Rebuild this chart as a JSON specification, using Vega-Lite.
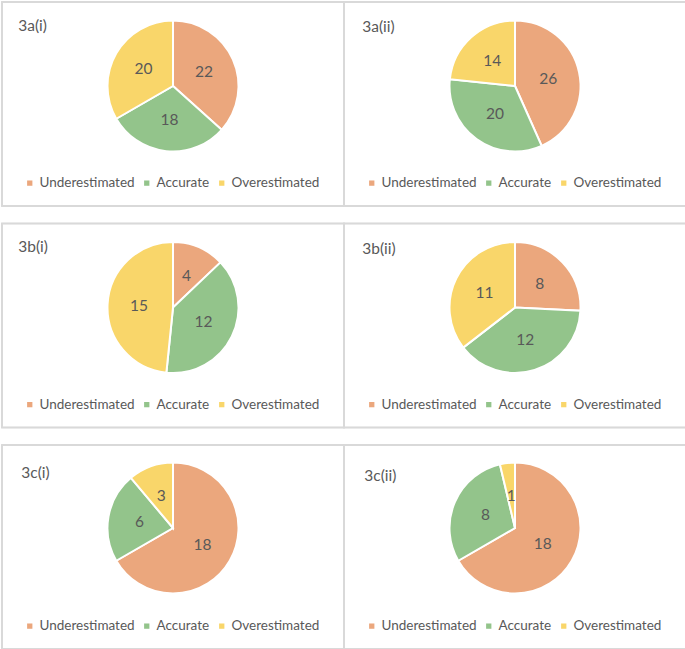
{
  "$schema": "https://vega.github.io/schema/vega-lite/v6.json",
  "padding": {"left": 1, "top": 1, "right": 0, "bottom": 0},
  "background": "white",
  "datasets": {
    "d": [
      {"panel": "3a(i)", "category": "Underestimated", "idx": 1, "count": 22},
      {"panel": "3a(i)", "category": "Accurate", "idx": 2, "count": 18},
      {"panel": "3a(i)", "category": "Overestimated", "idx": 3, "count": 20},
      {"panel": "3a(ii)", "category": "Underestimated", "idx": 1, "count": 26},
      {"panel": "3a(ii)", "category": "Accurate", "idx": 2, "count": 20},
      {"panel": "3a(ii)", "category": "Overestimated", "idx": 3, "count": 14},
      {"panel": "3b(i)", "category": "Underestimated", "idx": 1, "count": 4},
      {"panel": "3b(i)", "category": "Accurate", "idx": 2, "count": 12},
      {"panel": "3b(i)", "category": "Overestimated", "idx": 3, "count": 15},
      {"panel": "3b(ii)", "category": "Underestimated", "idx": 1, "count": 8},
      {"panel": "3b(ii)", "category": "Accurate", "idx": 2, "count": 12},
      {"panel": "3b(ii)", "category": "Overestimated", "idx": 3, "count": 11},
      {"panel": "3c(i)", "category": "Underestimated", "idx": 1, "count": 18},
      {"panel": "3c(i)", "category": "Accurate", "idx": 2, "count": 6},
      {"panel": "3c(i)", "category": "Overestimated", "idx": 3, "count": 3},
      {"panel": "3c(ii)", "category": "Underestimated", "idx": 1, "count": 18},
      {"panel": "3c(ii)", "category": "Accurate", "idx": 2, "count": 8},
      {"panel": "3c(ii)", "category": "Overestimated", "idx": 3, "count": 1}
    ]
  },
  "config": {
    "font": "Lato",
    "view": {"stroke": null},
    "title": {"font": "Lato", "fontSize": 15.5, "fontWeight": "normal", "color": "#595959", "anchor": "start", "baseline": "bottom"},
    "legend": {
      "orient": "none", "direction": "horizontal", "legendX": 21, "legendY": 174,
      "title": null, "symbolType": "square", "symbolSize": 28, "symbolStrokeWidth": 0,
      "labelFont": "Lato", "labelFontSize": 13.5, "labelColor": "#595959",
      "labelOffset": 3, "columnPadding": 5
    }
  },
  "resolve": {"legend": {"color": "independent"}},
  "bounds": "flush",
  "columns": 2,
  "spacing": {"row": 17.5, "column": 0},
  "concat": [
    {
      "width": 342, "height": 204,
      "title": {"text": "3a(i)", "offset": -33, "dx": 17},
      "data": {"name": "d"},
      "transform": [{"filter": "datum.panel == '3a(i)'"}],
      "encoding": {
        "theta": {"field": "count", "type": "quantitative", "stack": true},
        "order": {"field": "idx", "type": "quantitative"}
      },
      "layer": [
        {"mark": {"type": "rect", "fill": null, "stroke": "#D9D9D9", "strokeWidth": 1.5}, "encoding": {}},
        {"mark": {"type": "arc", "radius": 65.5, "y": 84, "stroke": "white", "strokeWidth": 2},
         "encoding": {"color": {"field": "category", "type": "nominal",
           "scale": {"domain": ["Underestimated", "Accurate", "Overestimated"], "range": ["#EBA77D", "#93C48B", "#F9D66A"]}}}},
        {"mark": {"type": "text", "radius": 34, "y": 84, "fontSize": 15.5, "color": "#595959", "font": "Lato"},
         "encoding": {"text": {"field": "count", "type": "quantitative"}}}
      ]
    },
    {
      "width": 342, "height": 204,
      "title": {"text": "3a(ii)", "offset": -34, "dx": 19},
      "data": {"name": "d"},
      "transform": [{"filter": "datum.panel == '3a(ii)'"}],
      "encoding": {
        "theta": {"field": "count", "type": "quantitative", "stack": true},
        "order": {"field": "idx", "type": "quantitative"}
      },
      "layer": [
        {"mark": {"type": "rect", "fill": null, "stroke": "#D9D9D9", "strokeWidth": 1.5}, "encoding": {}},
        {"mark": {"type": "arc", "radius": 65.5, "y": 84, "stroke": "white", "strokeWidth": 2},
         "encoding": {"color": {"field": "category", "type": "nominal",
           "scale": {"domain": ["Underestimated", "Accurate", "Overestimated"], "range": ["#EBA77D", "#93C48B", "#F9D66A"]}}}},
        {"mark": {"type": "text", "radius": 34, "y": 84, "fontSize": 15.5, "color": "#595959", "font": "Lato"},
         "encoding": {"text": {"field": "count", "type": "quantitative"}}}
      ]
    },
    {
      "width": 342, "height": 204,
      "title": {"text": "3b(i)", "offset": -33, "dx": 17},
      "data": {"name": "d"},
      "transform": [{"filter": "datum.panel == '3b(i)'"}],
      "encoding": {
        "theta": {"field": "count", "type": "quantitative", "stack": true},
        "order": {"field": "idx", "type": "quantitative"}
      },
      "layer": [
        {"mark": {"type": "rect", "fill": null, "stroke": "#D9D9D9", "strokeWidth": 1.5}, "encoding": {}},
        {"mark": {"type": "arc", "radius": 65.5, "y": 84, "stroke": "white", "strokeWidth": 2},
         "encoding": {"color": {"field": "category", "type": "nominal",
           "scale": {"domain": ["Underestimated", "Accurate", "Overestimated"], "range": ["#EBA77D", "#93C48B", "#F9D66A"]}}}},
        {"mark": {"type": "text", "radius": 34, "y": 84, "fontSize": 15.5, "color": "#595959", "font": "Lato"},
         "encoding": {"text": {"field": "count", "type": "quantitative"}}}
      ]
    },
    {
      "width": 342, "height": 204,
      "title": {"text": "3b(ii)", "offset": -35, "dx": 19},
      "data": {"name": "d"},
      "transform": [{"filter": "datum.panel == '3b(ii)'"}],
      "encoding": {
        "theta": {"field": "count", "type": "quantitative", "stack": true},
        "order": {"field": "idx", "type": "quantitative"}
      },
      "layer": [
        {"mark": {"type": "rect", "fill": null, "stroke": "#D9D9D9", "strokeWidth": 1.5}, "encoding": {}},
        {"mark": {"type": "arc", "radius": 65.5, "y": 84, "stroke": "white", "strokeWidth": 2},
         "encoding": {"color": {"field": "category", "type": "nominal",
           "scale": {"domain": ["Underestimated", "Accurate", "Overestimated"], "range": ["#EBA77D", "#93C48B", "#F9D66A"]}}}},
        {"mark": {"type": "text", "radius": 34, "y": 84, "fontSize": 15.5, "color": "#595959", "font": "Lato"},
         "encoding": {"text": {"field": "count", "type": "quantitative"}}}
      ]
    },
    {
      "width": 342, "height": 204,
      "title": {"text": "3c(i)", "offset": -37, "dx": 20},
      "data": {"name": "d"},
      "transform": [{"filter": "datum.panel == '3c(i)'"}],
      "encoding": {
        "theta": {"field": "count", "type": "quantitative", "stack": true},
        "order": {"field": "idx", "type": "quantitative"}
      },
      "layer": [
        {"mark": {"type": "rect", "fill": null, "stroke": "#D9D9D9", "strokeWidth": 1.5}, "encoding": {}},
        {"mark": {"type": "arc", "radius": 65.5, "y": 83, "stroke": "white", "strokeWidth": 2},
         "encoding": {"color": {"field": "category", "type": "nominal",
           "scale": {"domain": ["Underestimated", "Accurate", "Overestimated"], "range": ["#EBA77D", "#93C48B", "#F9D66A"]}}}},
        {"mark": {"type": "text", "radius": 34, "y": 83, "fontSize": 15.5, "color": "#595959", "font": "Lato"},
         "encoding": {"text": {"field": "count", "type": "quantitative"}}}
      ]
    },
    {
      "width": 342, "height": 204,
      "title": {"text": "3c(ii)", "offset": -40, "dx": 21},
      "data": {"name": "d"},
      "transform": [{"filter": "datum.panel == '3c(ii)'"}],
      "encoding": {
        "theta": {"field": "count", "type": "quantitative", "stack": true},
        "order": {"field": "idx", "type": "quantitative"}
      },
      "layer": [
        {"mark": {"type": "rect", "fill": null, "stroke": "#D9D9D9", "strokeWidth": 1.5}, "encoding": {}},
        {"mark": {"type": "arc", "radius": 65.5, "y": 83, "stroke": "white", "strokeWidth": 2},
         "encoding": {"color": {"field": "category", "type": "nominal",
           "scale": {"domain": ["Underestimated", "Accurate", "Overestimated"], "range": ["#EBA77D", "#93C48B", "#F9D66A"]}}}},
        {"mark": {"type": "text", "radius": 32, "y": 83, "fontSize": 15.5, "color": "#595959", "font": "Lato"},
         "encoding": {"text": {"field": "count", "type": "quantitative"}}}
      ]
    }
  ]
}
